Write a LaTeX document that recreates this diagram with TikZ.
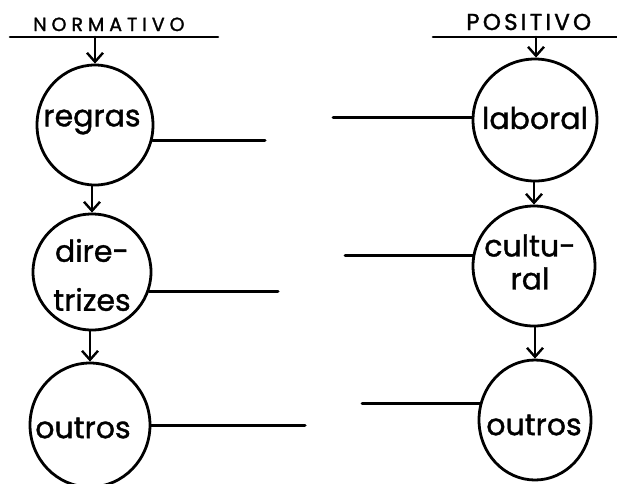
\documentclass[tikz,border=0pt]{standalone}
\usepackage{fontspec}
\setmainfont{Poppins}
\usetikzlibrary{arrows.meta,shapes.geometric}
\begin{document}
\begin{tikzpicture}[x=1pt,y=-1pt,
  every path/.style={line width=2.6pt,line cap=round},
  bubble/.style 2 args={ellipse,draw,line width=2.8pt,inner sep=0pt,
    minimum width=#1,minimum height=#2},
  word/.style={align=center,inner sep=0pt,
    font=\fontsize{30}{33}\selectfont\addfontfeature{FakeBold=1.2}},
  heading/.style 2 args={inner sep=0pt,
    font=\fontsize{#1}{#1}\selectfont\addfontfeature{FakeBold=1.5,LetterSpace=#2}},
  flow/.style={-{Straight Barb[length=9pt,width=16pt,line width=2.4pt]}},
  tie/.style={line width=3pt}]
\useasboundingbox (0,0) rectangle (617,483);

% headings with their underlines
\node[heading={19}{26},anchor=base west] (hn) at (32,31) {NORMATIVO};
\node[heading={23}{14},anchor=base west] (hp) at (465,30) {POSITIVO};
\coordinate (hnl) at (10,37);  \coordinate (hnr) at (218,37);
\coordinate (hpl) at (433,37); \coordinate (hpr) at (617,37);
\draw (hnl) -- (hnr);
\draw (hpl) -- (hpr);
\coordinate (hna) at (95,37);
\coordinate (hpa) at (536,37);

% normative column
\node[bubble={116pt}{120pt}] (reg) at (95,125) {};
\node[bubble={118pt}{116pt}] (dir) at (92,272) {};
\node[bubble={120pt}{124pt}] (outl) at (90,425) {};
\node[word] (treg) at (92,122) {regras};
\node[word] (tdir) at (92,275) {dire-\\[16pt]trizes};
\node[word] (toutl) at (83,428) {outros};

% positive column
\node[bubble={124pt}{122pt}] (lab) at (535,120) {};
\node[bubble={122pt}{120pt}] (cul) at (534,266) {};
\node[bubble={112pt}{120pt}] (outr) at (535,420) {};
\node[word] (tlab) at (535,118) {laboral};
\node[word] (tcul) at (530,262) {cultu-\\ral};
\node[word] (toutr) at (534,425) {outros};

% downward flow
\draw[flow] (hna) -- (hna |- reg.north);
\draw[flow] (dir.north |- reg.south) -- (dir.north);
\draw[flow] (outl.north |- dir.south) -- (outl.north);
\draw[flow] (hpa) -- (hpa |- lab.north);
\draw[flow] (cul.north |- lab.south) -- (cul.north);
\draw[flow] (outr.north |- cul.south) -- (outr.north);

% open-ended side lines
\coordinate (e1) at (265,0);
\coordinate (e2) at (278,0);
\coordinate (e3) at (305,0);
\coordinate (w1) at (333,0);
\coordinate (w2) at (345,0);
\coordinate (w3) at (362,0);
\draw[tie] (reg.-15) -- (e1 |- reg.-15);
\draw[tie] (dir.-19) -- (e2 |- dir.-19);
\draw[tie] (outl.0) -- (e3 |- outl.0);
\draw[tie] (lab.178) -- (w1 |- lab.178);
\draw[tie] (cul.170) -- (w2 |- cul.170);
\draw[tie] (outr.163) -- (w3 |- outr.163);
\end{tikzpicture}
\end{document}
